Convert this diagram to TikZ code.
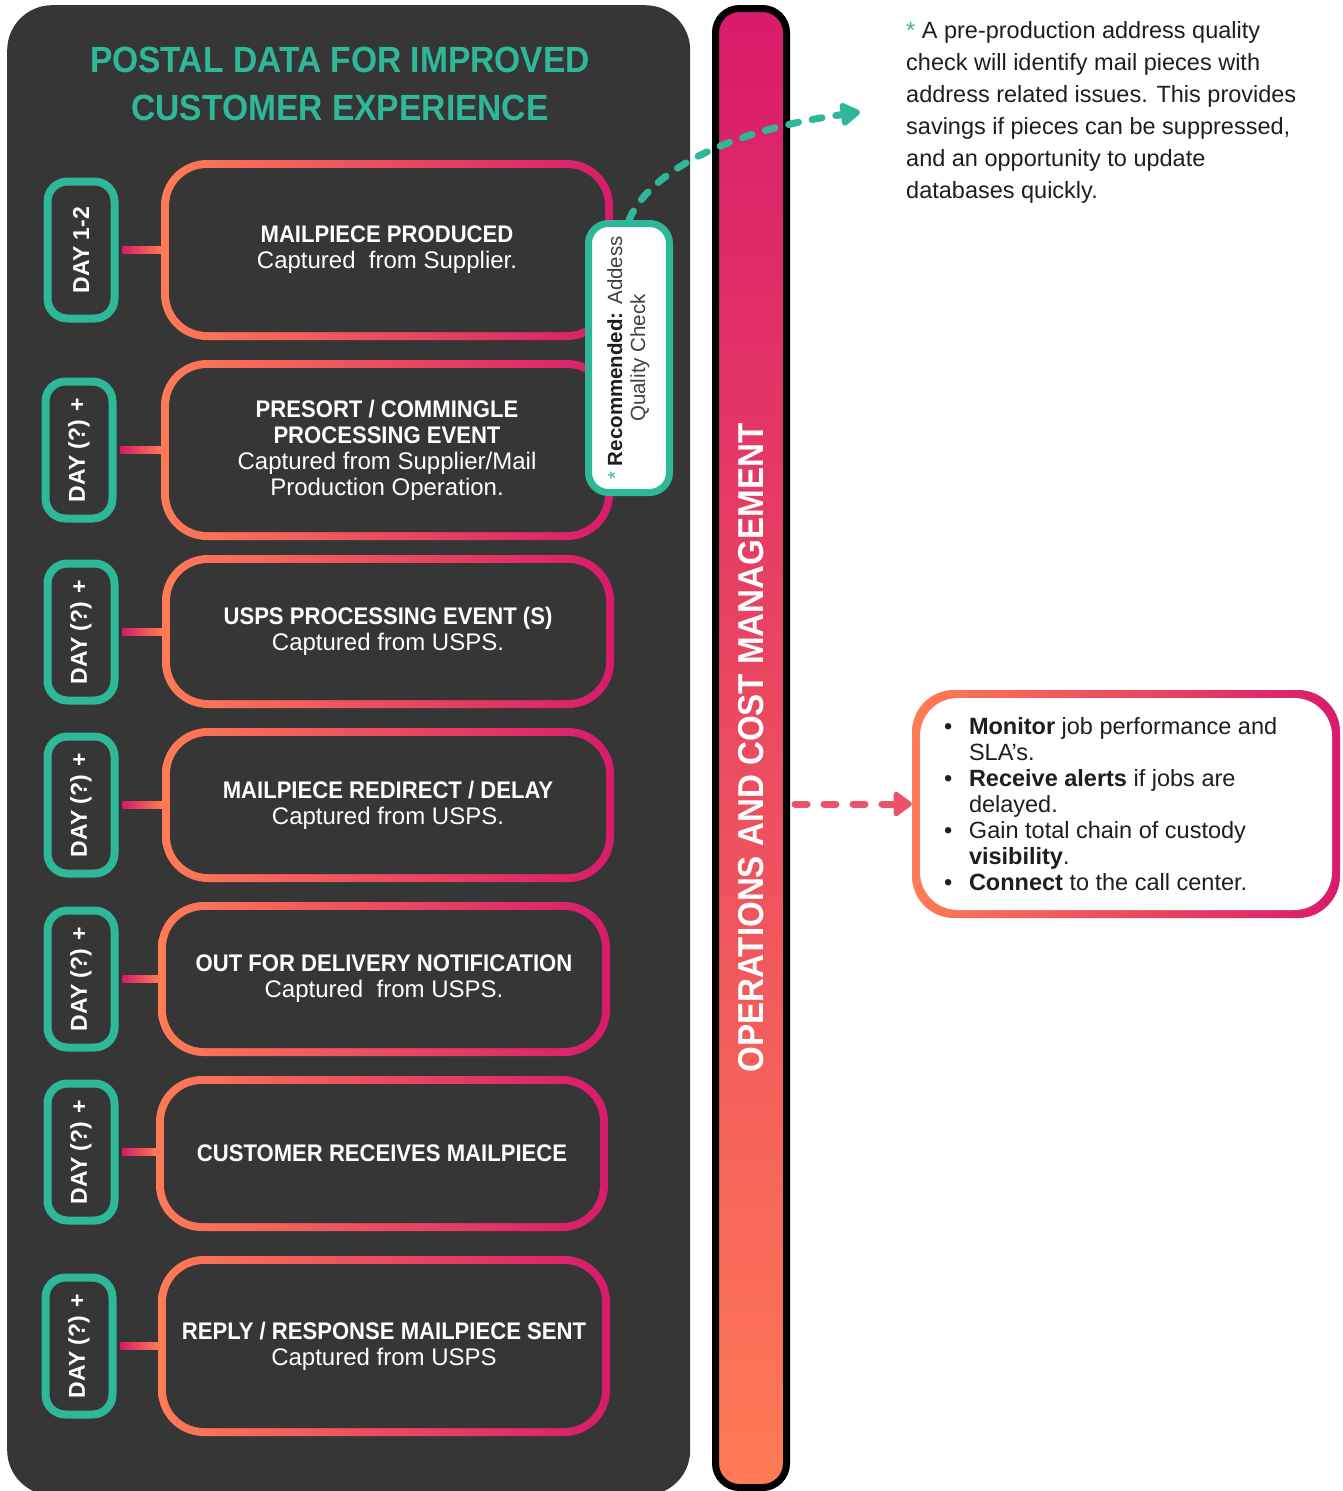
\documentclass[tikz,border=0pt]{standalone}
\usepackage{fontspec}
\setmainfont{Liberation Sans}
\newfontfamily\condb[FakeStretch=0.92]{Liberation Sans}
\usetikzlibrary{arrows.meta,calc}
\definecolor{panelc}{HTML}{363636}
\definecolor{tealc}{HTML}{2EB898}
\definecolor{gorange}{HTML}{FF7B55}
\definecolor{gmag}{HTML}{D81B6B}
\definecolor{inkc}{HTML}{1E1E1E}
\definecolor{pinkc}{HTML}{EE5266}
\tikzset{
  gbox/.style={shape=rectangle, rounded corners=46pt, left color=gorange, right color=gmag,
    inner sep=0pt, text=white, align=center, minimum width=452pt,
    font=\fontsize{24}{26}\selectfont,
    path picture={\fill[#1, rounded corners=38pt]
      ([xshift=8pt,yshift=-8pt]path picture bounding box.north west) rectangle
      ([xshift=-8pt,yshift=8pt]path picture bounding box.south east);}},
  gbox/.default=panelc,
  daypill/.style={draw=tealc, line width=8pt, fill=panelc, rounded corners=20pt,
    minimum width=67pt, minimum height=137pt, inner sep=0pt, text=white,
    font=\bfseries\fontsize{23}{26}\selectfont},
  link/.style={left color=gmag, right color=gorange},
}
\newcommand{\hdl}[1]{{\condb\bfseries #1}}
\begin{document}
\begin{tikzpicture}[x=1pt,y=-1pt]
\fill[white] (0,0) rectangle (1343,1491);
\useasboundingbox (0,0) rectangle (1343,1491);
% dark panel
\node[fill=panelc, rounded corners=45pt, minimum width=683pt, minimum height=1490pt,
  inner sep=0pt, anchor=north west] (panel) at (7,5) {};
% title
\node[text=tealc, align=center, font=\condb\bfseries\fontsize{36.5}{48}\selectfont] (title) at (340,84)
  {POSTAL DATA FOR IMPROVED\\CUSTOMER EXPERIENCE};
% event boxes
\node[gbox, minimum height=180pt] (b1) at (387,250)
  {\hdl{MAILPIECE PRODUCED}\\Captured\ \ from Supplier.};
\node[gbox, minimum height=180pt] (b2) at (387,450)
  {\hdl{PRESORT / COMMINGLE}\\\hdl{PROCESSING EVENT}\\Captured from Supplier/Mail\\Production Operation.};
\node[gbox, minimum height=153pt] (b3) at (388,631.5)
  {\hdl{USPS PROCESSING EVENT (S)}\\Captured from USPS.};
\node[gbox, minimum height=154pt] (b4) at (388,805)
  {\hdl{MAILPIECE REDIRECT / DELAY}\\Captured from USPS.};
\node[gbox, minimum height=154pt] (b5) at (384,979)
  {\hdl{OUT FOR DELIVERY NOTIFICATION}\\Captured\ \ from USPS.};
\node[gbox, minimum height=155pt] (b6) at (382,1153.5)
  {\hdl{CUSTOMER RECEIVES MAILPIECE}};
\node[gbox, minimum height=180pt] (b7) at (384,1346)
  {\hdl{REPLY / RESPONSE MAILPIECE SENT}\\Captured from USPS};
% day pills
\node[daypill] (d1) at (81,250) {\rotatebox{90}{DAY 1-2}};
\node[daypill] (d2) at (79,450) {\rotatebox{90}{DAY (?) +}};
\node[daypill] (d3) at (81,632) {\rotatebox{90}{DAY (?) +}};
\node[daypill] (d4) at (81,805) {\rotatebox{90}{DAY (?) +}};
\node[daypill] (d5) at (81,979) {\rotatebox{90}{DAY (?) +}};
\node[daypill] (d6) at (81,1152) {\rotatebox{90}{DAY (?) +}};
\node[daypill] (d7) at (79,1346) {\rotatebox{90}{DAY (?) +}};
% connectors
\foreach \i in {1,...,7}{
  \shade[link] ($(d\i.east)+(4pt,3.5pt)$) rectangle ($(b\i.west |- d\i.east)+(1pt,-3.5pt)$);
}
% recommended box
\node[draw=tealc, line width=7pt, fill=white, rounded corners=20pt, minimum width=81pt,
  minimum height=269pt, inner sep=0pt, text=inkc, font=\fontsize{20.5}{23}\selectfont] (rec) at (629,358)
  {\rotatebox{90}{\begin{tabular}{@{}c@{}}{\color{tealc}*} \textbf{Recommended:} {\color{black!75}Addess}\\{\color{black!75}Quality Check}\end{tabular}}};
% operations bar
\node[draw=black, line width=7pt, top color=gmag, bottom color=gorange, rounded corners=24pt,
  minimum width=71pt, minimum height=1479pt, inner sep=0pt, text=white,
  font=\condb\bfseries\fontsize{36}{40}\selectfont] (bar) at (751,748)
  {\rotatebox{90}{OPERATIONS AND COST MANAGEMENT}};
% right box
\node[gbox=white, rounded corners=42pt, minimum width=428pt, minimum height=228pt] (rbox) at (1126,804) {};
\node[anchor=west, align=left, inner sep=0pt, text=inkc, font=\fontsize{23.5}{26}\selectfont] (rtext)
  at ($(rbox.west)+(32pt,0)$)
  {\makebox[25pt][l]{\textbullet}\textbf{Monitor} job performance and\\
   \hspace*{25pt}SLA’s.\\
   \makebox[25pt][l]{\textbullet}\textbf{Receive alerts} if jobs are\\
   \hspace*{25pt}delayed.\\
   \makebox[25pt][l]{\textbullet}Gain total chain of custody\\
   \hspace*{25pt}\textbf{visibility}.\\
   \makebox[25pt][l]{\textbullet}\textbf{Connect} to the call center.};
% note text
\node[anchor=north west, align=left, inner sep=0pt, text=inkc, font=\fontsize{23.5}{32}\selectfont] (note)
  at (906,21)
  {{\color{tealc}*} A pre-production address quality\\
   check will identify mail pieces with\\
   address related issues. This provides\\
   savings if pieces can be suppressed,\\
   and an opportunity to update\\
   databases quickly.};
% arrows
\coordinate (ntip) at (860,112);
\draw[tealc, line width=7pt, line cap=round, dash pattern=on 10pt off 14pt,
  -{Triangle[length=22pt,width=26pt,round]}]
  (rec.north) .. controls (648,175) and (720,132) .. (ntip);
\draw[pinkc, line width=7pt, line cap=round, dash pattern=on 12pt off 17pt,
  -{Triangle[length=20pt,width=28pt,round]}]
  ($(bar.east |- rbox.west)+(5pt,0)$) -- (rbox.west);
\end{tikzpicture}
\end{document}
